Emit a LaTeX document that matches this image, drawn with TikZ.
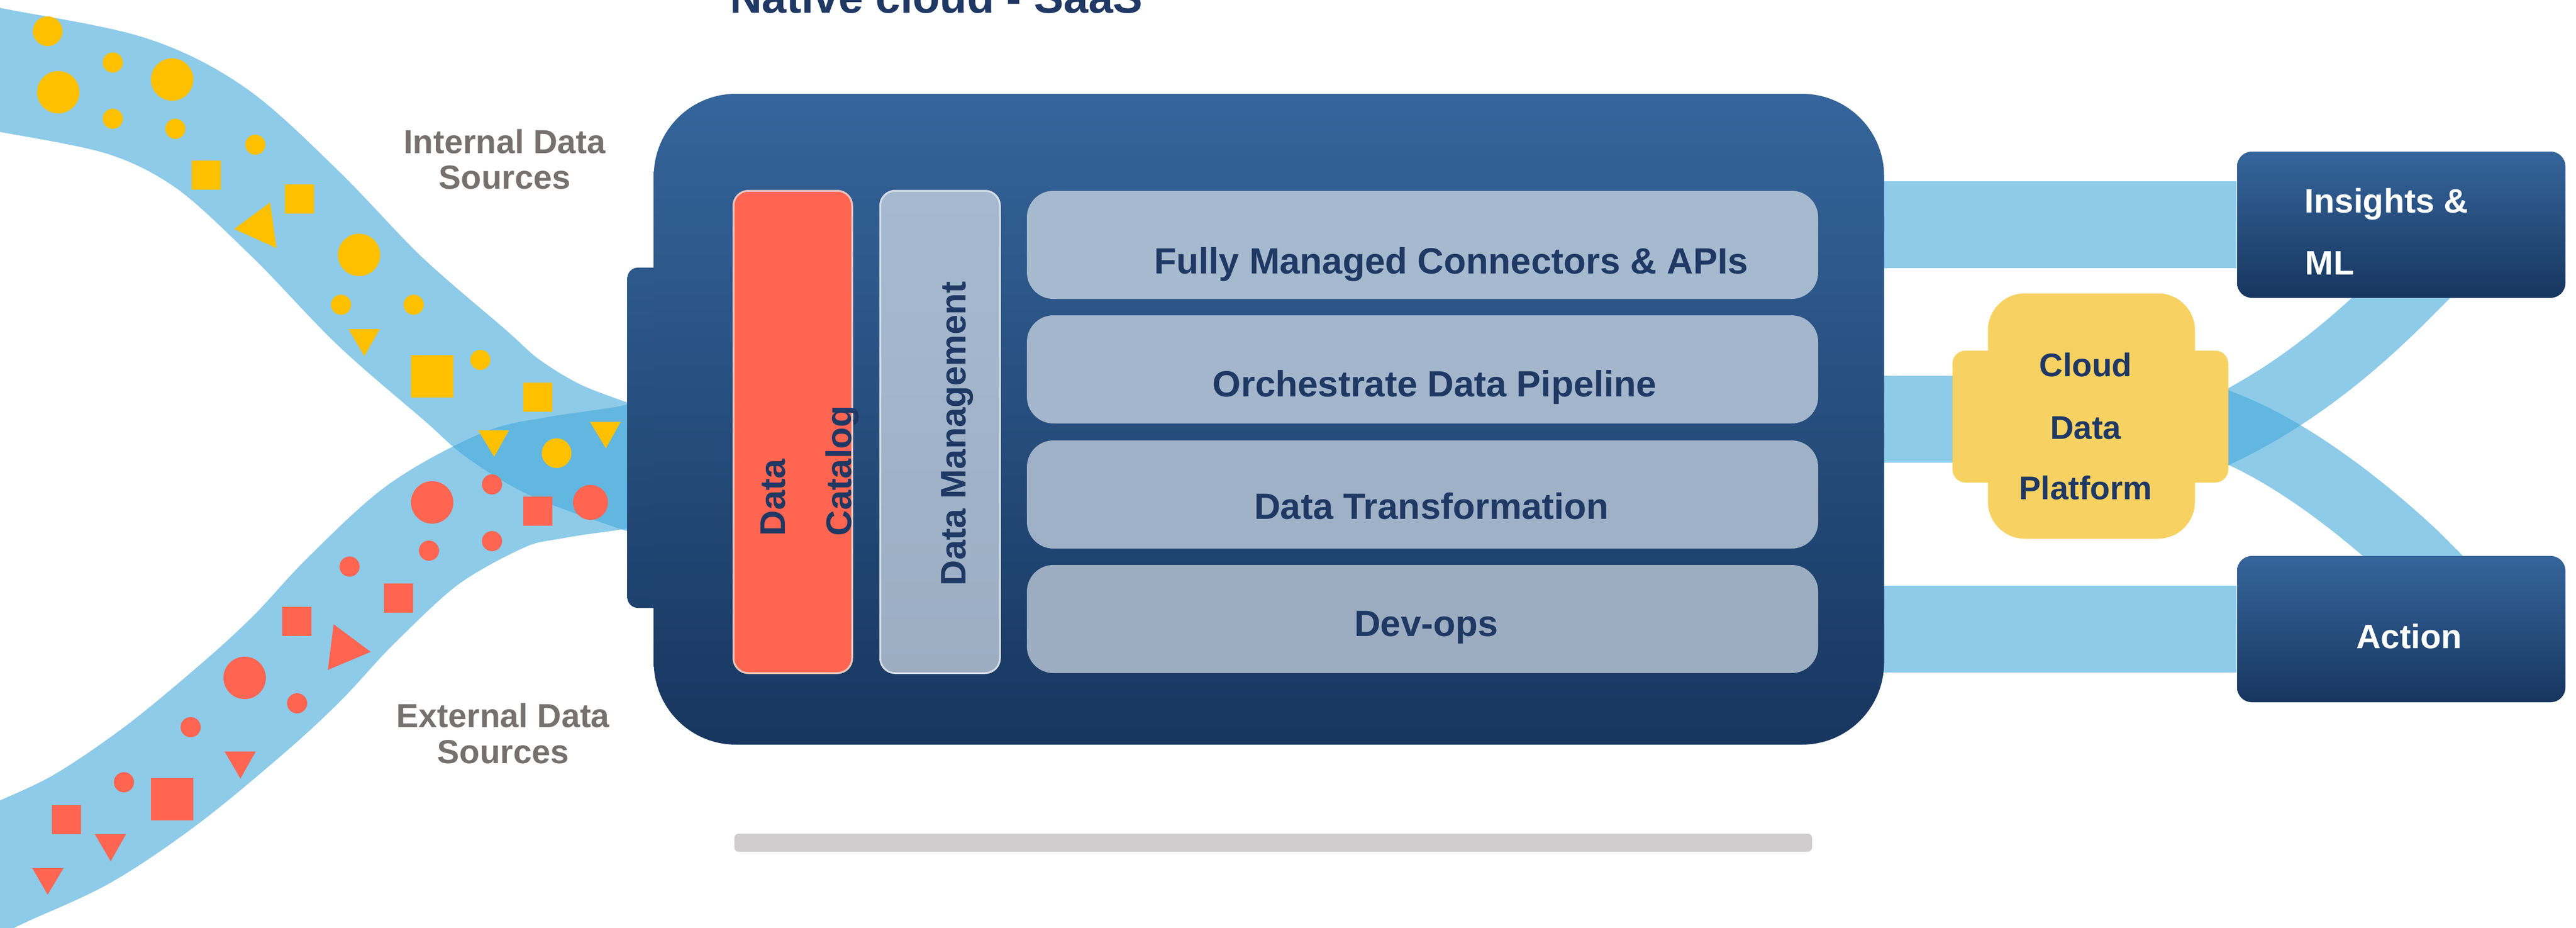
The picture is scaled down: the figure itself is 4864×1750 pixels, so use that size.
\documentclass[tikz,border=0pt]{standalone}
\usepackage{fontspec}
\setmainfont{Liberation Sans}
\usetikzlibrary{backgrounds}
\definecolor{navy}{HTML}{1F3864}
\definecolor{labelgray}{HTML}{767171}
\definecolor{boxtop}{HTML}{35659B}
\definecolor{boxbot}{HTML}{17365F}
\definecolor{tabtop}{HTML}{2D598B}
\definecolor{tabbot}{HTML}{1D406C}
\definecolor{catred}{HTML}{FF6550}
\definecolor{catline}{HTML}{E6C6C1}
\definecolor{rowtop}{HTML}{A6BACF}
\definecolor{rowbot}{HTML}{9CADC2}
\definecolor{rowline}{HTML}{D3DCE6}
\definecolor{cdpyellow}{HTML}{F7D262}
\definecolor{bargray}{HTML}{CFCDCE}
\definecolor{flow}{HTML}{48ACDD}
\definecolor{srcyellow}{HTML}{FFC000}
\definecolor{srccoral}{HTML}{FF6550}
\begin{document}
\begin{tikzpicture}[x=0.1mm, y=-0.1mm,
        band/.style={draw=flow, draw opacity=0.62, line width=23mm},
        outband/.style={draw=flow, draw opacity=0.62, line width=16.4mm},
        xband/.style={draw=flow, draw opacity=0.62, line width=13mm},
        bluebox/.style={top color=boxtop, bottom color=boxbot, inner sep=0pt},
        rowbox/.style={rounded corners=5mm, minimum width=149.4mm, minimum height=20.4mm, inner sep=0pt},
        colbox/.style={rounded corners=2.8mm, line width=0.35mm, minimum width=22.4mm, minimum height=91mm, inner sep=0pt},
        rowtext/.style={text=navy, inner sep=0pt, anchor=base, font=\fontsize{19.6}{23}\selectfont\bfseries},
        coltext/.style={text=navy, inner sep=0pt, rotate=90, font=\fontsize{19.1}{23}\selectfont\bfseries},
        srclabel/.style={text=labelgray, inner sep=0pt, anchor=base, font=\fontsize{17.9}{21}\selectfont\bfseries},
        outtext/.style={text=white, inner sep=0pt, font=\fontsize{18.2}{21}\selectfont\bfseries},
        cdptext/.style={text=navy, inner sep=0pt, anchor=base, font=\fontsize{17.6}{21}\selectfont\bfseries},
        intern/.style={fill=srcyellow},
        extern/.style={fill=srccoral}]

    \useasboundingbox (0,0) rectangle (4864,1750);

    % platform
    \node[top color=tabtop, bottom color=tabbot, rounded corners=2mm, minimum width=7.5mm, minimum height=64.2mm, inner sep=0pt] (tab) at (1222,826) {};
    \node[bluebox, rounded corners=15.5mm, minimum width=232.3mm, minimum height=122.8mm] (main) at (2396,791) {};
    \node[colbox, fill=catred, draw=catline] (cat) at (1497,815) {};
    \node[colbox, top color=rowtop, bottom color=rowbot, draw=rowline, minimum width=22.6mm] (dm) at (1775,815) {};
    \foreach \i/\y/\m in {1/462/0, 2/697/33, 3/933/67, 4/1168/100}
        \node[rowbox, fill=rowbot!\m!rowtop] (row\i) at (2686,\y) {};

    \node[rowtext] (conn) at (2740,516) {Fully Managed Connectors \& APIs};
    \node[rowtext] (orch) at (2709,748) {Orchestrate Data Pipeline};
    \node[rowtext] (trans) at (2703,979) {Data Transformation};
    \node[rowtext] (devops) at (2693,1200) {Dev-ops};
    \node[coltext, anchor=base west] (cat1) at (1482,1012) {Data};
    \node[coltext, anchor=base west] (cat2) at (1607,1012) {Catalog};
    \node[coltext, anchor=base] (dmtext) at (1823,818) {Data Management};

    \node[text=navy, inner sep=0pt, anchor=base, font=\fontsize{23.9}{28}\selectfont\bfseries] (title) at (1768,24) {Native cloud - SaaS};
    \node[fill=bargray, rounded corners=0.8mm, minimum width=203.5mm, minimum height=3.4mm, inner sep=0pt] (bar) at (2404,1590) {};

    % outputs
    \node[bluebox, rounded corners=2.8mm, minimum width=62mm, minimum height=27.6mm] (ins) at (4534,424) {};
    \node[bluebox, rounded corners=2.8mm, minimum width=62mm, minimum height=27.6mm] (act) at (4534,1187) {};
    \node[outtext, anchor=base west] (ins1) at (4351,401) {Insights \&};
    \node[outtext, anchor=base west] (ins2) at (4352,518) {ML};
    \node[outtext, anchor=base] (act1) at (4549,1223) {Action};

    \node[fill=cdpyellow, rounded corners=2.5mm, minimum width=52.1mm, minimum height=24.9mm, inner sep=0pt] (cdpw) at (3947,786) {};
    \node[fill=cdpyellow, rounded corners=7mm, minimum width=39.1mm, minimum height=46.3mm, inner sep=0pt] (cdp) at (3949,785) {};
    \node[cdptext] (cdp1) at (3938,710) {Cloud};
    \node[cdptext] (cdp2) at (3938,828) {Data};
    \node[cdptext] (cdp3) at (3938,942) {Platform};

    % sources
    \node[srclabel] (int1) at (953,289) {Internal Data};
    \node[srclabel] (int2) at (953,356) {Sources};
    \node[srclabel] (ext1) at (950,1372) {External Data};
    \node[srclabel] (ext2) at (950,1440) {Sources};

    \foreach \x/\y/\r in {90/59/28, 213/118/19, 110/174/40, 325/150/40, 213/224/19, 331/243/19,
            482/273/19, 678/481/40, 644/575/19, 781/575/19, 907/679/19, 1051/855/28}
        \fill[intern] (\x,\y) circle (\r);
    \foreach \x/\y/\s in {389/330/55, 565/375/55, 816/710/80, 1015/749/55}
        \fill[intern] (\x-\s/2,\y-\s/2) rectangle ++(\s,\s);
    \foreach \ua/\va/\ub/\vb/\uc/\vc in {510/382/442/432/522/468, 658/621/717/621/688/672,
            903/812/961/812/933/862, 1114/796/1172/796/1144/846}
        \fill[intern] (\ua,\va) -- (\ub,\vb) -- (\uc,\vc) -- cycle;

    \foreach \x/\y/\r in {816/948/40, 929/914/19, 1115/948/33, 929/1021/19, 810/1039/19,
            660/1069/19, 462/1279/40, 561/1327/19, 360/1372/19, 234/1476/19}
        \fill[extern] (\x,\y) circle (\r);
    \foreach \x/\y/\s in {1015/964/55, 752/1128/55, 560/1172/55, 325/1508/80, 125/1546/55}
        \fill[extern] (\x-\s/2,\y-\s/2) rectangle ++(\s,\s);
    \foreach \ua/\va/\ub/\vb/\uc/\vc in {630/1178/700/1230/619/1264, 424/1418/483/1418/454/1469,
            179/1574/238/1574/209/1625, 61/1638/120/1638/90/1688}
        \fill[extern] (\ua,\va) -- (\ub,\vb) -- (\uc,\vc) -- cycle;

    % flows
    \begin{pgfonlayer}{background}
        \fill[white] (0,0) rectangle (4864,1750);
        \coordinate (inlet) at (1184,881);
        \draw[band] plot[smooth, tension=0.55] coordinates {(-80,118) (0,132) (239,181) (399,261)
            (558,404) (717,568) (877,707) (950,771) (1050,831) (inlet) (1240,899)};
        \draw[band] plot[smooth, tension=0.55] coordinates {(-80,1675) (0,1636) (153,1565) (306,1462)
            (459,1336) (561,1242) (663,1133) (800,1008) (950,925) (1050,901) (inlet) (1240,866)};

        \coordinate (mainR) at ([xshift=-5mm]main.east);
        \coordinate (cdpin) at ([yshift=-0.6mm]cdp.center);
        \draw[outband] (mainR |- ins) -- (ins);
        \draw[outband] (mainR |- cdpin) -- (cdpin);
        \draw[outband] (mainR |- act) -- (act);

        \coordinate (fork) at (4207,806);
        \draw[xband] (4150,834) -- (fork) .. controls (4327,746) and (4434,662) .. (ins.south) -- ++(60,-60);
        \draw[xband] (4150,783) -- (fork) .. controls (4327,854) and (4458,955) .. ([xshift=2.4mm]act.north) -- ++(60,60);
    \end{pgfonlayer}
\end{tikzpicture}
\end{document}
